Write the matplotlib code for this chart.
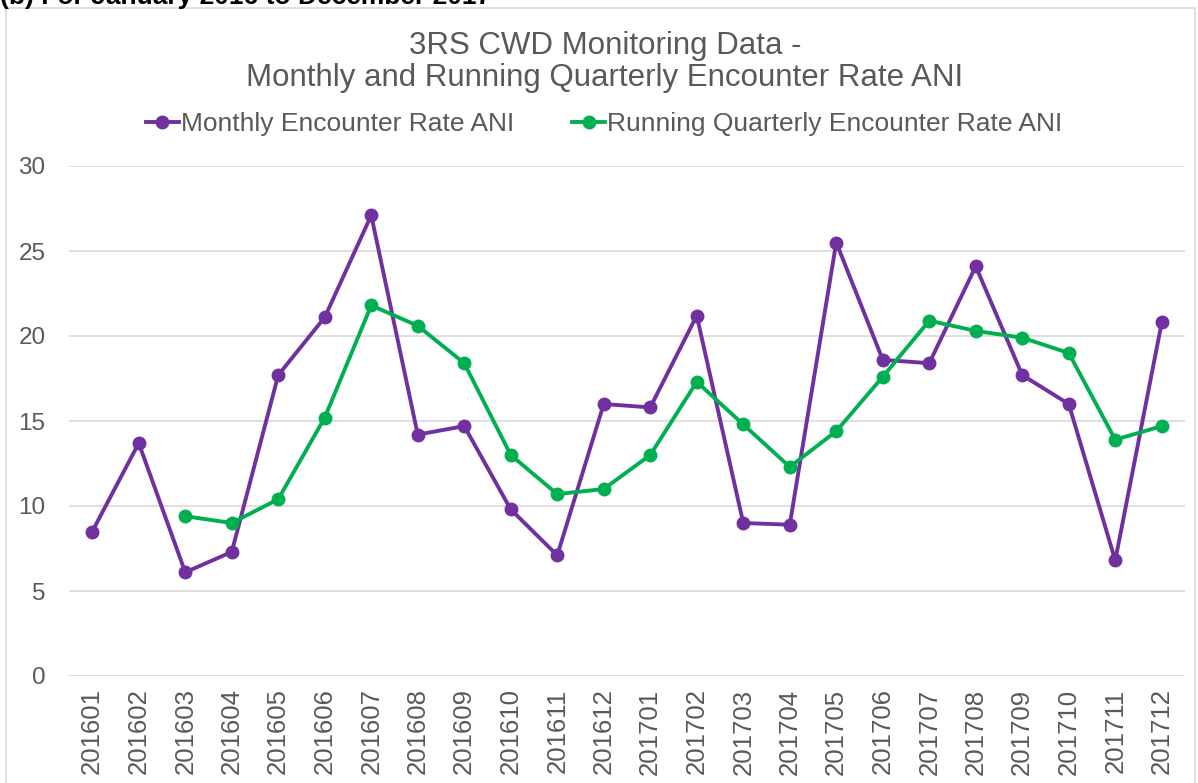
import numpy as np
import matplotlib.pyplot as plt
from matplotlib.patches import Rectangle

plt.rcParams['font.family'] = ['Liberation Sans', 'DejaVu Sans']

months = ['201601', '201602', '201603', '201604', '201605', '201606',
          '201607', '201608', '201609', '201610', '201611', '201612',
          '201701', '201702', '201703', '201704', '201705', '201706',
          '201707', '201708', '201709', '201710', '201711', '201712']

monthly_rate = [8.5, 13.7, 6.1, 7.3, 17.7, 21.1, 27.1, 14.2, 14.7, 9.8, 7.1, 16.0,
                15.8, 21.2, 9.0, 8.9, 25.5, 18.6, 18.4, 24.1, 17.7, 16.0, 6.8, 20.8]

# running quarterly only starts from the 3rd month
quarterly_rate = [np.nan, np.nan, 9.4, 9.0, 10.4, 15.2, 21.8, 20.6, 18.4, 13.0, 10.7, 11.0,
                  13.0, 17.3, 14.8, 12.3, 14.4, 17.6, 20.9, 20.3, 19.9, 19.0, 13.9, 14.7]

purple = '#7030A0'
green = '#00B050'
grey_txt = '#595959'

fig = plt.figure(figsize=(11.98, 7.83), dpi=100)

# chart frame
fig.patches.append(Rectangle((6 / 1198, -0.01), 1189 / 1198, 1 - 8 / 783 + 0.01,
                             transform=fig.transFigure, fill=False,
                             edgecolor='#d9d9d9', linewidth=1.2))

# header cut off at top of the page
fig.text(0.0, 1 - 4 / 783, '(b) For January 2016 to December 2017', fontsize=19,
         fontweight='bold', ha='left', va='baseline', color='black')

ax = fig.add_axes([69 / 1198, 1 - 676 / 783, 1116 / 1198, 510 / 783])

x = np.arange(len(months))
ax.plot(x, monthly_rate, color=purple, linewidth=2.8, marker='o', markersize=9,
        label='Monthly Encounter Rate ANI')
ax.plot(x, quarterly_rate, color=green, linewidth=2.8, marker='o', markersize=9,
        label='Running Quarterly Encounter Rate ANI')

ax.set_xlim(-0.5, len(months) - 0.5)
ax.set_ylim(0, 30)
ax.set_yticks(range(0, 31, 5))
ax.set_xticks(x)
ax.set_xticklabels(months, rotation=90)
ax.tick_params(axis='y', length=0, pad=17, labelsize=17.5, labelcolor=grey_txt)
ax.tick_params(axis='x', length=0, pad=9, labelsize=18.5, labelcolor=grey_txt)
ax.grid(axis='y', color='#d9d9d9', linewidth=1.2)
ax.set_axisbelow(True)
for s in ax.spines.values():
    s.set_visible(False)

fig.text(605 / 1198, 1 - 62 / 783, '3RS CWD Monitoring Data -\nMonthly and Running Quarterly Encounter Rate ANI',
         ha='center', va='center', fontsize=22.5, color=grey_txt, linespacing=1.08)

fig.legend(loc='center', bbox_to_anchor=(604 / 1198, 1 - 124 / 783), ncol=2,
           frameon=False, fontsize=19, handlelength=1.25, handletextpad=0.08,
           columnspacing=2.2, labelcolor=grey_txt)

fig.savefig('out.png', dpi=100)
